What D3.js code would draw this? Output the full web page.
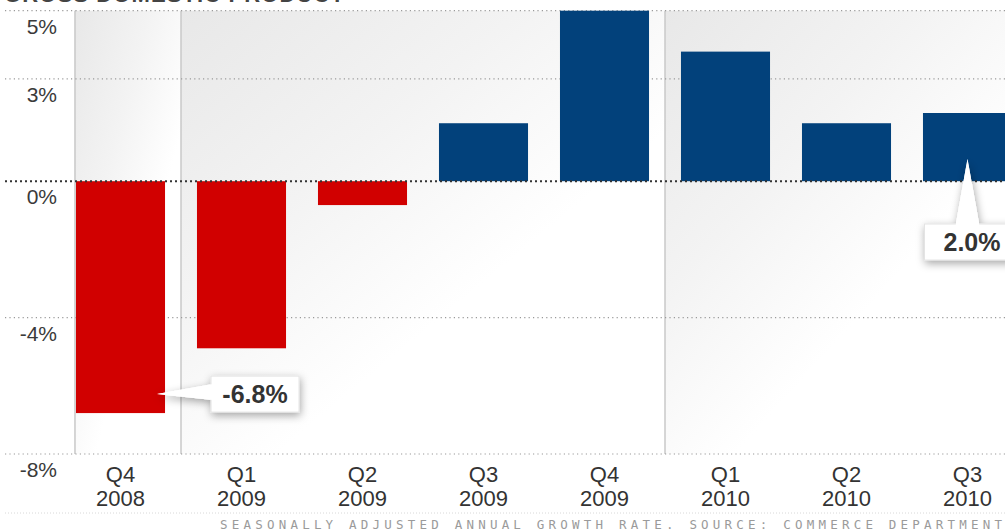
<!DOCTYPE html>
<html>
<head>
<meta charset="utf-8">
<script src="https://cdn.jsdelivr.net/npm/d3@7"></script>
<style>
  body { margin: 0; background: #fff; }
  svg { display: block; font-family: "Liberation Sans", Arial, sans-serif; }
</style>
</head>
<body>
<div id="chart"></div>
<script>
// Quarterly GDP growth, seasonally adjusted annual rate.
var quarters = ["Q4", "Q1", "Q2", "Q3", "Q4", "Q1", "Q2", "Q3"];
var years = ["2008", "2009", "2009", "2009", "2009", "2010", "2010", "2010"];
var growth = [-6.8, -4.9, -0.7, 1.7, 5.0, 3.8, 1.7, 2.0];
var yTicks = [5, 3, 0, -4, -8];
var yearGroups = ["2008", "2009", "2010"];
var footnote = "SEASONALLY ADJUSTED ANNUAL GROWTH RATE. SOURCE: COMMERCE DEPARTMENT";

var width = 1005, height = 531;

var svg = d3.select("#chart").append("svg")
    .attr("width", width)
    .attr("height", height);

var defs = svg.append("defs");

// Panel shading: grey at the top left, fading to white.
var grad = defs.append("linearGradient")
    .attr("id", "panel")
    .attr("x1", 0).attr("y1", 0).attr("x2", 0.9).attr("y2", 1);
grad.append("stop").attr("offset", 0).attr("stop-color", "#e8e8e8");
grad.append("stop").attr("offset", 0.35).attr("stop-color", "#f3f3f3");
grad.append("stop").attr("offset", 0.65).attr("stop-color", "#ffffff");

var shadow = defs.append("filter")
    .attr("id", "shadow")
    .attr("x", "-30%").attr("y", "-40%")
    .attr("width", "160%").attr("height", "180%");
shadow.append("feDropShadow")
    .attr("dx", 1).attr("dy", 3)
    .attr("stdDeviation", 4)
    .attr("flood-color", "#000")
    .attr("flood-opacity", 0.35);

var keys = d3.range(growth.length);

var x = d3.scaleBand()
    .domain(keys)
    .range([60, 60 + 121 * keys.length])
    .paddingInner(0.264)
    .paddingOuter(0.132);

var y = d3.scaleLinear()
    .domain([-8, 5])
    .range([454, 10.7]);

var gap = x.step() - x.bandwidth();

// Year panels, split between the last quarter of one year and the first of the next.
var panels = yearGroups.map(function(yr) {
    var idx = keys.filter(function(i) { return years[i] === yr; });
    var first = idx[0], last = idx[idx.length - 1];
    var left = first === 0 ? x(first) - 1 : x(first) - gap / 2;
    var right = last === keys.length - 1 ? width + 20 : x(last) + x.bandwidth() + gap / 2;
    return { year: yr, left: left, right: right };
});

svg.append("g").selectAll("rect")
    .data(panels)
    .enter().append("rect")
    .attr("x", function(d) { return d.left; })
    .attr("y", y(5))
    .attr("width", function(d) { return d.right - d.left; })
    .attr("height", y(-8) - y(5))
    .attr("fill", "url(#panel)");

svg.append("g").selectAll("line")
    .data(panels)
    .enter().append("line")
    .attr("x1", function(d) { return d.left; })
    .attr("x2", function(d) { return d.left; })
    .attr("y1", y(5))
    .attr("y2", y(-8))
    .attr("stroke", "#c8c8c8")
    .attr("stroke-width", 1.5);

// Title, cut off at the top of the frame.
svg.append("text")
    .attr("x", 4)
    .attr("y", 2)
    .attr("font-size", 22)
    .attr("font-weight", "bold")
    .attr("fill", "#444")
    .attr("textLength", 340)
    .text("GROSS DOMESTIC PRODUCT");

// Dotted grid lines (the zero line drawn later, on top of the bars).
svg.append("g").selectAll("line")
    .data(yTicks.filter(function(t) { return t !== 0; }))
    .enter().append("line")
    .attr("x1", 5)
    .attr("x2", width)
    .attr("y1", function(d) { return y(d); })
    .attr("y2", function(d) { return y(d); })
    .attr("stroke", "#9a9a9a")
    .attr("stroke-width", 1.2)
    .attr("stroke-dasharray", "1.2,3.2");

// Bars
svg.append("g").selectAll("rect")
    .data(keys)
    .enter().append("rect")
    .attr("x", function(i) { return x(i); })
    .attr("y", function(i) { return y(Math.max(0, growth[i])); })
    .attr("width", x.bandwidth())
    .attr("height", function(i) { return Math.abs(y(growth[i]) - y(0)); })
    .attr("fill", function(i) { return growth[i] < 0 ? "#d10000" : "#02417b"; });

svg.append("line")
    .attr("x1", 5)
    .attr("x2", width)
    .attr("y1", y(0))
    .attr("y2", y(0))
    .attr("stroke", "#333")
    .attr("stroke-width", 2)
    .attr("stroke-dasharray", "2,3");

// Y tick labels sit just below their grid line.
svg.append("g").selectAll("text")
    .data(yTicks)
    .enter().append("text")
    .attr("x", 57)
    .attr("y", function(d) { return y(d) + 23; })
    .attr("text-anchor", "end")
    .attr("font-size", 21)
    .attr("fill", "#3a3a3a")
    .text(function(d) { return d + "%"; });

// X labels, quarter over year.
var xl = svg.append("g").selectAll("text")
    .data(keys)
    .enter().append("text")
    .attr("text-anchor", "middle")
    .attr("font-size", 22)
    .attr("fill", "#333");
xl.append("tspan")
    .attr("x", function(i) { return x(i) + x.bandwidth() / 2; })
    .attr("y", 482)
    .text(function(i) { return quarters[i]; });
xl.append("tspan")
    .attr("x", function(i) { return x(i) + x.bandwidth() / 2; })
    .attr("y", 506)
    .text(function(i) { return years[i]; });

// Footer
svg.append("line")
    .attr("x1", 5).attr("x2", width)
    .attr("y1", 513).attr("y2", 513)
    .attr("stroke", "#d8d8d8")
    .attr("stroke-dasharray", "1,2");

svg.append("text")
    .attr("x", 220)
    .attr("y", 529)
    .attr("font-family", "'DejaVu Sans Mono', monospace")
    .attr("font-size", 12.5)
    .attr("textLength", 782)
    .attr("lengthAdjust", "spacing")
    .attr("fill", "#9a9a9a")
    .text(footnote);

// Callouts
function callout(label, tip, box, base) {
    var g = svg.append("g").attr("filter", "url(#shadow)");
    var arrow = "M" + tip[0] + "," + tip[1] + "L" + base[0][0] + "," + base[0][1] +
        "L" + base[1][0] + "," + base[1][1] + "Z";
    g.append("path").attr("d", arrow).attr("fill", "#fff");
    g.append("rect")
        .attr("x", box.x).attr("y", box.y)
        .attr("width", box.w).attr("height", box.h)
        .attr("fill", "#fff")
        .attr("stroke", "#e4e4e4");
    g.append("path").attr("d", arrow).attr("fill", "#fff");
    svg.append("text")
        .attr("x", box.x + box.w / 2)
        .attr("y", box.y + box.h / 2 + 9)
        .attr("text-anchor", "middle")
        .attr("font-size", 25)
        .attr("font-weight", "bold")
        .attr("fill", "#333")
        .text(label);
}

var i0 = 0;
var t0 = [x(i0) + x.bandwidth() - 8, y(growth[i0]) - 19];
callout(growth[i0].toFixed(1) + "%", t0,
    { x: t0[0] + 54, y: t0[1] - 18, w: 88, h: 36 },
    [[t0[0] + 56, t0[1] - 10], [t0[0] + 56, t0[1] + 6]]);

var i1 = growth.length - 1;
var t1 = [x(i1) + x.bandwidth() / 2, y(growth[i1]) + 46];
callout(growth[i1].toFixed(1) + "%", t1,
    { x: t1[0] - 43, y: t1[1] + 65, w: 95, h: 36 },
    [[t1[0] - 12, t1[1] + 67], [t1[0] + 12, t1[1] + 67]]);
</script>
</body>
</html>
